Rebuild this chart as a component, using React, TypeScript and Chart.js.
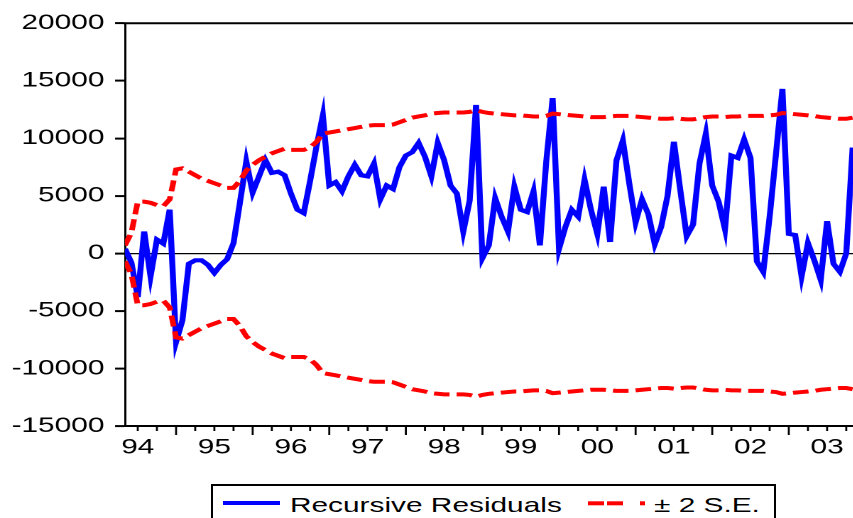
import React, { useEffect, useRef } from 'react';
import { Chart, registerables } from 'chart.js';

Chart.register(...registerables);

// Horizontal stretch of the original figure
const SX = 1.42;
const FONT = '"Liberation Sans", Arial, Helvetica, sans-serif';

// Monthly observations, 1994M05 onward
const START_MONTH = 5;
const X_MAX = 115;

const yearLabels = ['94', '95', '96', '97', '98', '99', '00', '01', '02', '03'];

const residuals = [
  400, -800, -3800, 1900, -2000, 1200, 850, 3800, -7700, -5800,
  -900, -600, -600, -1000, -1700, -1000, -500, 900, 4400, 8000,
  5300, 6700, 8100, 7000, 7100, 6800, 5200, 3800, 3500, 6300,
  9300, 12000, 5900, 6200, 5400, 6700, 7700, 6800, 6700, 7800,
  4700, 5900, 5600, 7500, 8500, 8800, 9600, 8400, 6700, 9600,
  8100, 5900, 5200, 1900, 4600, 12900, -400, 700, 4800, 3200,
  1900, 5800, 3800, 3600, 5400, 700, 8000, 13500, 400, 2300,
  3800, 3200, 6400, 3800, 1700, 5800, 1000, 8100, 9800, 6100,
  2700, 4700, 3400, 800, 2300, 5000, 9700, 5500, 1500, 2500,
  7800, 10400, 5900, 4500, 2100, 8500, 8300, 9900, 8300, -700,
  -1600, 3200, 8700, 14300, 1700, 1600, -2000, 900, -600, -2300,
  2800, -900, -1600, 0, 9200,
];

const seUpper = [
  700, 1800, 4500, 4500, 4400, 4200, 4100, 4700, 7300, 7400,
  7100, 6800, 6500, 6300, 6100, 5900, 5700, 5700, 6300, 7200,
  7700, 8100, 8400, 8700, 8900, 9100, 9000, 9000, 9000, 9200,
  9700, 10400, 10500, 10600, 10700, 10800, 10900, 11000, 11100, 11150,
  11150, 11150, 11200, 11400, 11600, 11800, 11900, 12000, 12150, 12200,
  12250, 12250, 12250, 12250, 12300, 12450, 12300, 12200, 12150, 12100,
  12050, 12000, 12000, 11950, 11900, 11900, 11950, 12150, 12100, 12050,
  12000, 11950, 11900, 11850, 11850, 11850, 11900, 11950, 11950, 11950,
  11900, 11850, 11800, 11750, 11700, 11700, 11750, 11700, 11650, 11650,
  11750, 11850, 11900, 11900, 11850, 11900, 11900, 11950, 11950, 11950,
  11950, 12000, 12050, 12200, 12150, 12100, 12050, 12000, 11950, 11850,
  11800, 11750, 11700, 11700, 11800,
];

const seLower = [
  -700, -1800, -4500, -4500, -4400, -4200, -4100, -4700, -7300, -7400,
  -7100, -6800, -6500, -6300, -6100, -5900, -5700, -5700, -6300, -7200,
  -7700, -8100, -8400, -8700, -8900, -9100, -9000, -9000, -9000, -9200,
  -9700, -10400, -10500, -10600, -10700, -10800, -10900, -11000, -11100, -11150,
  -11150, -11150, -11200, -11400, -11600, -11800, -11900, -12000, -12150, -12200,
  -12250, -12250, -12250, -12250, -12300, -12450, -12300, -12200, -12150, -12100,
  -12050, -12000, -12000, -11950, -11900, -11900, -11950, -12150, -12100, -12050,
  -12000, -11950, -11900, -11850, -11850, -11850, -11900, -11950, -11950, -11950,
  -11900, -11850, -11800, -11750, -11700, -11700, -11750, -11700, -11650, -11650,
  -11750, -11850, -11900, -11900, -11850, -11900, -11900, -11950, -11950, -11950,
  -11950, -12000, -12050, -12200, -12150, -12100, -12050, -12000, -11950, -11850,
  -11800, -11750, -11700, -11700, -11800,
];

const Y_MIN = -15000;
const Y_MAX = 20000;
const Y_STEP = 5000;

// layout (displayed pixels -> logical canvas pixels)
const CANVAS_W = 640;
const CANVAS_H = 470;
const PLOT_LEFT = 125 / SX;
const PLOT_RIGHT = 859 / SX;
const PLOT_TOP = 23.3;
const PLOT_BOTTOM = 426;

const monthOf = (i: number) => (START_MONTH - 1 + i) % 12;
const yearMidIndex = yearLabels.map((_, k) => k * 12 + (6 - (START_MONTH - 1)));

const framePlugin = {
  id: 'frame',
  afterDraw(chart: any) {
    const { ctx, chartArea: a } = chart;
    const x = chart.scales.x;
    ctx.save();
    ctx.strokeStyle = '#000';
    ctx.lineWidth = 2;
    ctx.beginPath();
    ctx.moveTo(a.left - 1, a.top);
    ctx.lineTo(a.right, a.top);
    ctx.stroke();
    ctx.lineWidth = 1.5;
    ctx.beginPath();
    ctx.moveTo(a.right, a.top);
    ctx.lineTo(a.right, a.bottom);
    ctx.stroke();
    ctx.lineWidth = 1.4;
    for (let i = 0; i <= X_MAX; i++) {
      const m = monthOf(i);
      if (m % 3 !== 0) continue;
      const px = x.getPixelForValue(i);
      const len = m === 0 ? 9 : 5;
      ctx.beginPath();
      ctx.moveTo(px, a.bottom);
      ctx.lineTo(px, a.bottom + len);
      ctx.stroke();
    }
    ctx.restore();
  },
};

function ResidualChart() {
  const ref = useRef<HTMLCanvasElement | null>(null);
  useEffect(() => {
    if (!ref.current) return;
    const chart = new Chart(ref.current, {
      type: 'line',
      data: {
        datasets: [
          {
            label: '± 2 S.E.',
            data: seUpper.map((v, i) => ({ x: i, y: v })),
            borderColor: '#ff0000',
            borderWidth: 4,
            borderDash: [11, 5],
            pointRadius: 0,
            fill: false,
            tension: 0,
            order: 0,
          },
          {
            label: '± 2 S.E. (lower)',
            data: seLower.map((v, i) => ({ x: i, y: v })),
            borderColor: '#ff0000',
            borderWidth: 4,
            borderDash: [11, 5],
            pointRadius: 0,
            fill: false,
            tension: 0,
            order: 0,
          },
          {
            label: 'Recursive Residuals',
            data: residuals.map((v, i) => ({ x: i, y: v })),
            borderColor: '#0000ff',
            borderWidth: 4.2,
            pointRadius: 0,
            fill: false,
            tension: 0,
            order: 1,
          },
        ],
      },
      options: {
        animation: false,
        responsive: false,
        devicePixelRatio: 2,
        layout: {
          padding: { top: PLOT_TOP, left: 0, right: CANVAS_W - PLOT_RIGHT, bottom: 0 },
        },
        plugins: {
          legend: { display: false },
          tooltip: { enabled: false },
        },
        scales: {
          x: {
            type: 'linear',
            min: 0,
            max: X_MAX,
            afterBuildTicks: (s: any) => {
              s.ticks = yearMidIndex.map((v) => ({ value: v }));
            },
            afterFit: (s: any) => {
              s.height = CANVAS_H - PLOT_BOTTOM;
            },
            ticks: {
              autoSkip: false,
              maxRotation: 0,
              minRotation: 0,
              padding: 9,
              color: '#000',
              font: { family: FONT, size: 21 },
              callback: (v: any) => {
                const k = yearMidIndex.indexOf(Number(v));
                return k >= 0 ? yearLabels[k] : '';
              },
            },
            grid: { display: true, drawOnChartArea: false, drawTicks: false },
            border: { display: true, color: '#000', width: 2 },
          },
          y: {
            min: Y_MIN,
            max: Y_MAX,
            afterFit: (s: any) => {
              s.width = PLOT_LEFT;
            },
            ticks: {
              stepSize: Y_STEP,
              color: '#000',
              padding: 7.5,
              font: { family: FONT, size: 21 },
              callback: (v: any) => String(v),
            },
            grid: {
              color: (c: any) => (c.tick && c.tick.value === 0 ? '#000' : 'rgba(0,0,0,0)'),
              lineWidth: 1.2,
              drawTicks: true,
              tickLength: 7,
              tickColor: '#000',
              tickWidth: 2,
            },
            border: { display: true, color: '#000', width: 1.5 },
          },
        },
      },
      plugins: [framePlugin],
    } as any);
    return () => chart.destroy();
  }, []);

  return (
    <div style={{ position: 'absolute', left: 0, top: 0, transform: `scaleX(${SX})`, transformOrigin: '0 0' }}>
      <canvas ref={ref} width={CANVAS_W} height={CANVAS_H} style={{ display: 'block' }} />
    </div>
  );
}

const legendText: React.CSSProperties = {
  position: 'absolute',
  fontFamily: FONT,
  fontSize: 21,
  lineHeight: '21px',
  whiteSpace: 'nowrap',
  color: '#000',
  transform: `scaleX(${SX})`,
  transformOrigin: '0 0',
};

export default function App() {
  return (
    <div
      style={{
        position: 'fixed',
        left: 0,
        top: 0,
        width: 853,
        height: 518,
        overflow: 'hidden',
        background: '#fff',
      }}
    >
      <ResidualChart />
      <div
        style={{
          position: 'absolute',
          left: 211,
          top: 484,
          width: 565,
          height: 50,
          border: '2px solid #000',
          boxSizing: 'border-box',
          background: '#fff',
        }}
      >
        <div style={{ position: 'absolute', left: 10, top: 15.3, width: 57, height: 4, background: '#0000ff' }} />
        <span style={{ ...legendText, left: 76.5, top: 7.9 }}>Recursive Residuals</span>
        <svg style={{ position: 'absolute', left: 375, top: 13 }} width={58} height={9}>
          <line x1={0} y1={4.3} x2={16} y2={4.3} stroke="#ff0000" strokeWidth={4} />
          <line x1={19} y1={4.3} x2={35} y2={4.3} stroke="#ff0000" strokeWidth={4} />
          <line x1={52} y1={4.3} x2={57} y2={4.3} stroke="#ff0000" strokeWidth={4} />
        </svg>
        <span style={{ ...legendText, left: 441, top: 7.9 }}>± 2 S.E.</span>
      </div>
    </div>
  );
}
